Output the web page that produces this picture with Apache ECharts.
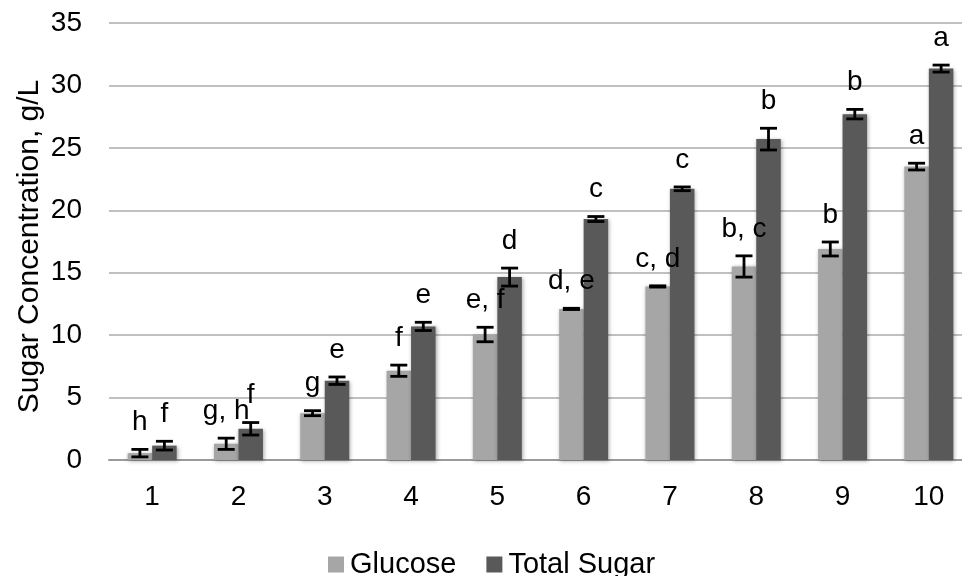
<!DOCTYPE html>
<html>
<head>
<meta charset="utf-8">
<title>Sugar Concentration</title>
<script src="https://cdn.jsdelivr.net/npm/echarts@6/dist/echarts.min.js"></script>
<style>
  html, body { margin: 0; padding: 0; background: #ffffff; overflow: hidden; width: 962px; height: 576px; }
  /* The plot area runs past the right edge of the page, so the canvas is wider than the view */
  #chart { width: 990px; height: 576px; }
</style>
</head>
<body>
<div id="chart"></div>
<script>
// Sample numbers on the x axis
const categories = ['1', '2', '3', '4', '5', '6', '7', '8', '9', '10'];

// Mean concentrations (g/L) and their error half-widths
const glucose    = [0.55, 1.3, 3.75, 7.15, 10.05, 12.1, 13.9, 15.5, 16.9, 23.5];
const glucoseErr = [0.3, 0.45, 0.2, 0.45, 0.58, 0.05, 0.05, 0.85, 0.56, 0.27];
const totalSugar = [1.15, 2.5, 6.35, 10.7, 14.65, 19.3, 21.72, 25.7, 27.7, 31.35];
const totalErr   = [0.35, 0.5, 0.3, 0.33, 0.72, 0.2, 0.15, 0.87, 0.38, 0.28];

// Significance groupings written above each bar
const glucoseLetters = ['h', 'g, h', 'g', 'f', 'e, f', 'd, e', 'c, d', 'b, c', 'b', 'a'];
const totalLetters   = ['f', 'f', 'e', 'e', 'd', 'c', 'c', 'b', 'b', 'a'];

// Y axis ticks
const yTicks = { min: 0, max: 35, interval: 5 };

const FONT = '"Liberation Sans", Arial, Helvetica, sans-serif';
const BAR_W = 24.5;
const GLUCOSE_COLOR = '#a6a6a6';
const TOTAL_COLOR = '#595959';

const chart = echarts.init(document.getElementById('chart'), null, { renderer: 'canvas' });

// Error bar with its caps plus the grouping letter above it
function errorBarSeries(name, values, errors, letters, offset) {
  return {
    name: name + ' error',
    type: 'custom',
    z: 10,
    silent: true,
    data: values.map((v, i) => [i, v, errors[i]]),
    encode: { x: 0, y: 1 },
    renderItem: function (params, api) {
      const idx = api.value(0);
      const v = api.value(1);
      const e = api.value(2);
      const top = api.coord([idx, v + e]);
      const bot = api.coord([idx, v - e]);
      const x = top[0] + offset;
      const cap = 8.5;
      const lineStyle = { stroke: '#000000', lineWidth: 2.8 };
      return {
        type: 'group',
        children: [
          { type: 'line', shape: { x1: x, y1: top[1], x2: x, y2: bot[1] }, style: lineStyle },
          { type: 'line', shape: { x1: x - cap, y1: top[1], x2: x + cap, y2: top[1] }, style: lineStyle },
          { type: 'line', shape: { x1: x - cap, y1: bot[1], x2: x + cap, y2: bot[1] }, style: lineStyle },
          {
            type: 'text',
            style: {
              text: letters[params.dataIndex],
              x: x,
              y: top[1] - 13,
              align: 'center',
              verticalAlign: 'bottom',
              font: '28px ' + FONT,
              fill: '#000000'
            }
          }
        ]
      };
    }
  };
}

const barShadow = {
  shadowBlur: 4,
  shadowColor: 'rgba(0,0,0,0.35)',
  shadowOffsetX: 1,
  shadowOffsetY: 1
};

const option = {
  animation: false,
  backgroundColor: '#ffffff',
  textStyle: { fontFamily: FONT },
  grid: { left: 109, top: 23, width: 863, height: 437, containLabel: false },
  legend: {
    data: ['Glucose', 'Total Sugar'],
    left: 323,
    top: 545,
    icon: 'rect',
    itemWidth: 16,
    itemHeight: 16,
    itemGap: 30,
    textStyle: { fontSize: 29, color: '#000000', fontFamily: FONT, padding: [0, 0, 0, 1] }
  },
  xAxis: {
    type: 'category',
    data: categories,
    axisLine: { show: true, lineStyle: { color: '#9a9a9a', width: 2 } },
    axisTick: { show: false },
    axisLabel: { fontSize: 28, color: '#000000', margin: 23, fontFamily: FONT },
    splitLine: { show: false }
  },
  yAxis: {
    type: 'value',
    min: yTicks.min,
    max: yTicks.max,
    interval: yTicks.interval,
    name: 'Sugar Concentration, g/L',
    nameLocation: 'middle',
    nameRotate: 90,
    nameGap: 64,
    nameMoveOverlap: false,
    nameTextStyle: { fontSize: 30, color: '#000000', fontFamily: FONT, padding: [0, 10, 0, 0] },
    axisLine: { show: false },
    axisTick: { show: false },
    axisLabel: { fontSize: 28, color: '#000000', margin: 27, fontFamily: FONT },
    splitLine: { show: true, lineStyle: { color: '#c0c0c0', width: 2 } }
  },
  series: [
    {
      name: 'Glucose',
      type: 'bar',
      data: glucose,
      barWidth: BAR_W,
      barGap: '0%',
      itemStyle: Object.assign({ color: GLUCOSE_COLOR }, barShadow)
    },
    {
      name: 'Total Sugar',
      type: 'bar',
      data: totalSugar,
      barWidth: BAR_W,
      barGap: '0%',
      itemStyle: Object.assign({ color: TOTAL_COLOR }, barShadow)
    },
    errorBarSeries('Glucose', glucose, glucoseErr, glucoseLetters, -BAR_W / 2),
    errorBarSeries('Total Sugar', totalSugar, totalErr, totalLetters, BAR_W / 2)
  ]
};

chart.setOption(option);
</script>
</body>
</html>
